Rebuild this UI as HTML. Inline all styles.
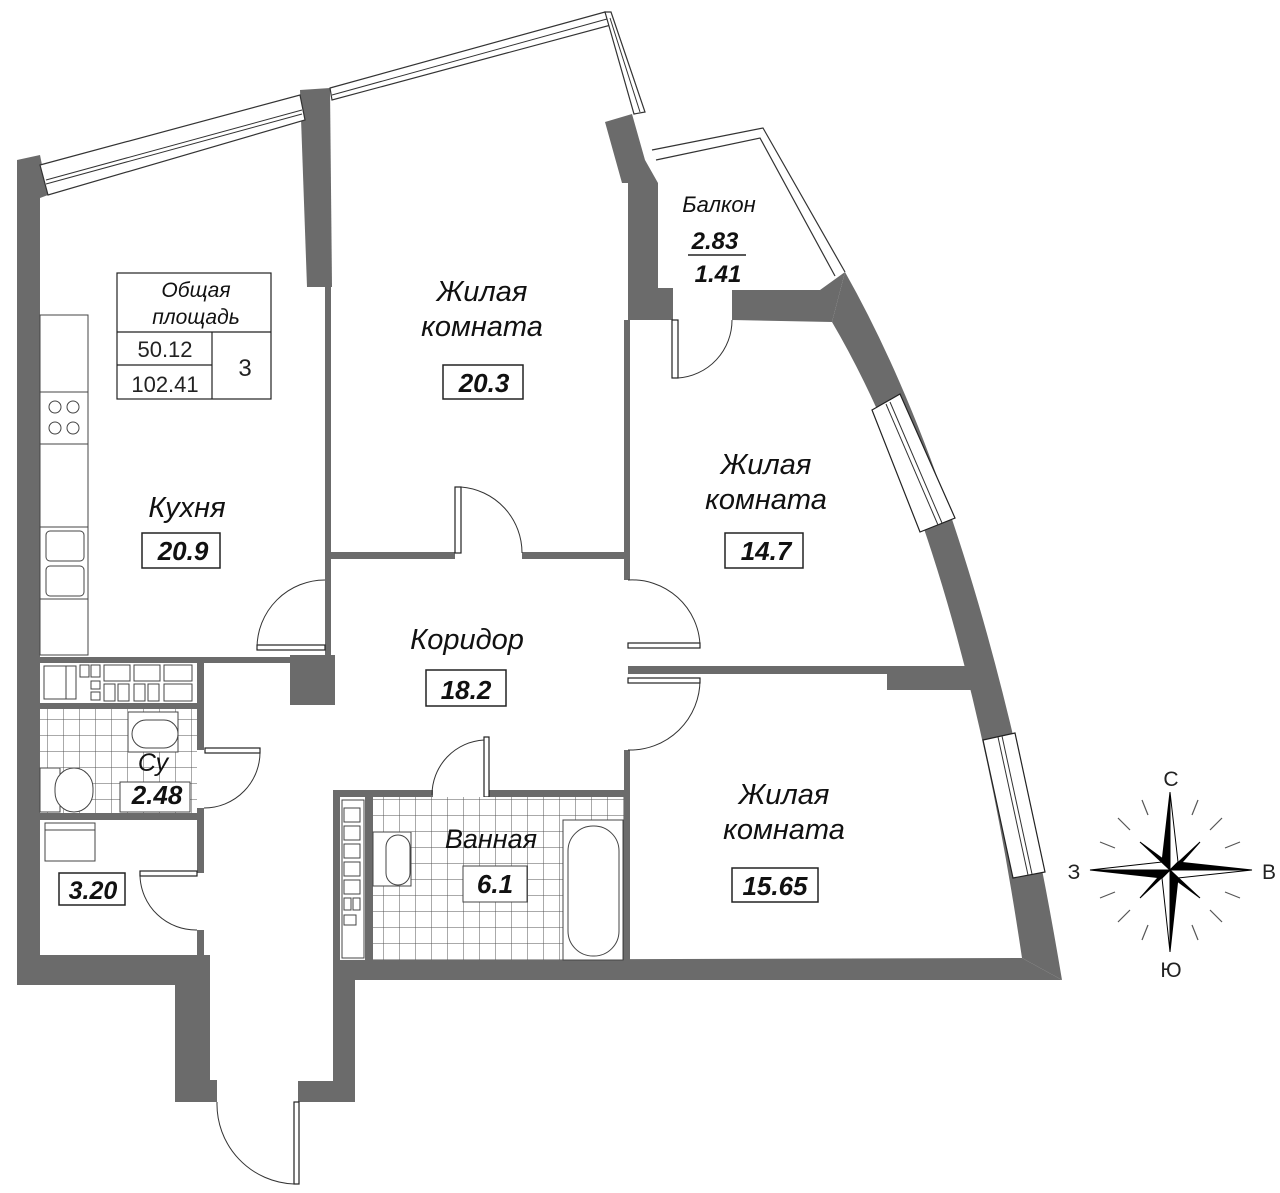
<!DOCTYPE html>
<html><head><meta charset="utf-8"><style>
html,body{margin:0;padding:0;background:#fff;}
svg{display:block;}
.l{font-family:"Liberation Sans",sans-serif;font-style:italic;fill:#111;}
.v{font-family:"Liberation Sans",sans-serif;font-style:italic;font-weight:bold;fill:#111;}
</style></head><body>
<svg width="1280" height="1193" viewBox="0 0 1280 1193" xmlns="http://www.w3.org/2000/svg">
<defs>
<pattern id="tile" width="16" height="16" patternUnits="userSpaceOnUse">
<rect width="16" height="16" fill="#fff"/><path d="M16 0V16M0 16H16" stroke="#555" stroke-width="1"/>
</pattern>
</defs>
<g fill="#6b6b6b" stroke="none">
<polygon points="17,160 40,155 48,195 40,198 40,955 210,955 210,1080 217,1080 217,1102 175,1102 175,985 17,985"/>
<polygon points="333,960 1022,958 1062,980 355,980 355,1102 298,1102 298,1081 333,1081"/>
<polygon points="300,90 330,88 332,287 307,287"/>
<polygon points="605,122 632,114 645,160 658,183 658,288 673,288 673,320 628,320 628,183 622,183"/>
<polygon points="732,290 820,290 845,272 832,322 732,320"/>
<path d="M845,272 Q985,520 1062,980 L1022,958 Q960,540 832,322 Z"/>
<rect x="887" y="666" width="98" height="24"/>
<rect x="628" y="666" width="260" height="8"/>
<rect x="290" y="655" width="45" height="50"/>
<rect x="40" y="657" width="285" height="6"/>
<rect x="40" y="703" width="160" height="6"/>
<rect x="40" y="813" width="160" height="7"/>
<rect x="197" y="657" width="7" height="93"/>
<rect x="197" y="808" width="7" height="65"/>
<rect x="197" y="930" width="7" height="30"/>
<rect x="325" y="287" width="6" height="370"/>
<rect x="624" y="320" width="6" height="260"/>
<rect x="330" y="552" width="125" height="7"/>
<rect x="522" y="552" width="105" height="7"/>
<rect x="624" y="750" width="6" height="45"/>
<rect x="333" y="790" width="100" height="7"/>
<rect x="489" y="790" width="140" height="7"/>
<rect x="333" y="790" width="7" height="172"/>
<rect x="365" y="797" width="8" height="165"/>
<rect x="624" y="790" width="6" height="172"/>
</g>
<g fill="#fff" stroke="#333" stroke-width="1.2">
<polygon points="40,165 300,95 305,120 48,195"/>
<polygon points="330,88 605,12 611,25 332,100"/>
<polygon points="605,12 611,12 645,112 634,114"/>
</g>
<g stroke="#333" stroke-width="1" fill="none">
<line x1="46" y1="180" x2="302" y2="110"/><line x1="46" y1="184" x2="302" y2="114"/>
<line x1="332" y1="95" x2="607" y2="19"/>
<line x1="610" y1="18" x2="640" y2="112"/>
</g>
<g stroke="#333" stroke-width="1.2" fill="none">
<polyline points="652,150 763,128 845,272"/>
<polyline points="656,160 760,138 835,276"/>
</g>
<g fill="#fff" stroke="#222" stroke-width="1.2">
<polygon points="900,394 955,518 920,532 872,410"/>
<polygon points="1015,733 1045,872 1013,878 983,740"/>
</g>
<g stroke="#333" stroke-width="1" fill="none">
<line x1="886" y1="404" x2="938" y2="525"/><line x1="890" y1="402" x2="942" y2="523"/>
<line x1="998" y1="737" x2="1028" y2="875"/><line x1="1002" y1="736" x2="1032" y2="874"/>
</g>
<g stroke="#222" stroke-width="1.2" fill="#fff">
<rect x="672" y="320" width="6" height="58"/>
<rect x="455" y="487" width="6" height="66"/>
<rect x="257" y="645" width="68" height="5"/>
<rect x="628" y="643" width="72" height="5"/>
<rect x="628" y="678" width="72" height="5"/>
<rect x="484" y="737" width="5" height="60"/>
<rect x="205" y="748" width="55" height="5"/>
<rect x="140" y="871" width="57" height="5"/>
<rect x="294" y="1102" width="5" height="82"/>
</g>
<g stroke="#333" stroke-width="1" fill="none">
<path d="M678,378 A58,58 0 0 0 732,320"/>
<path d="M461,487 A66,66 0 0 1 522,553"/>
<path d="M257,648 A68,68 0 0 1 325,580"/>
<path d="M628,580 A68,68 0 0 1 700,645"/>
<path d="M700,680 A70,70 0 0 1 628,750"/>
<path d="M432,795 A55,55 0 0 1 484,740"/>
<path d="M260,750 A56,56 0 0 1 204,808"/>
<path d="M140,876 A56,56 0 0 0 197,930"/>
<path d="M217,1102 A80,80 0 0 0 294,1184"/>
</g>
<g stroke="#444" stroke-width="1" fill="#fff">
<rect x="40" y="315" width="48" height="340"/>
<rect x="40" y="392" width="48" height="52"/>
<circle cx="55" cy="407" r="6"/><circle cx="73" cy="407" r="6"/>
<circle cx="55" cy="428" r="6"/><circle cx="73" cy="428" r="6"/>
<rect x="40" y="527" width="48" height="72"/>
<rect x="46" y="531" width="38" height="30" rx="4"/><rect x="46" y="566" width="38" height="30" rx="4"/>
</g>
<g stroke="#444" stroke-width="1" fill="none">
<rect x="44" y="666" width="32" height="33"/>
<rect x="66" y="666" width="10" height="33"/>
<rect x="80" y="665" width="9" height="12"/><rect x="91" y="665" width="9" height="12"/>
<rect x="91" y="681" width="9" height="8"/><rect x="91" y="692" width="9" height="8"/>
<rect x="104" y="665" width="26" height="16"/><rect x="134" y="665" width="26" height="16"/><rect x="164" y="665" width="28" height="16"/>
<rect x="104" y="684" width="11" height="17"/><rect x="118" y="684" width="11" height="17"/><rect x="134" y="684" width="11" height="17"/><rect x="148" y="684" width="11" height="17"/><rect x="164" y="684" width="28" height="17"/>
</g>
<rect x="40" y="709" width="157" height="104" fill="url(#tile)"/>
<g stroke="#444" stroke-width="1" fill="#fff">
<rect x="128" y="712" width="50" height="40"/>
<rect x="132" y="720" width="46" height="28" rx="14"/>
<rect x="40" y="768" width="20" height="44"/>
<rect x="55" y="768" width="38" height="44" rx="20"/>
<rect x="120" y="782" width="70" height="30"/>
</g>
<rect x="45" y="823" width="50" height="38" fill="#fff" stroke="#444"/>
<line x1="45" y1="830" x2="95" y2="830" stroke="#444"/>
<rect x="373" y="797" width="251" height="163" fill="url(#tile)"/>
<g stroke="#444" stroke-width="1" fill="#fff">
<rect x="342" y="800" width="22" height="158"/>
<rect x="344" y="808" width="16" height="14"/><rect x="344" y="826" width="16" height="14"/><rect x="344" y="844" width="16" height="14"/><rect x="344" y="862" width="16" height="14"/><rect x="344" y="880" width="16" height="14"/>
<rect x="344" y="898" width="7" height="12"/><rect x="353" y="898" width="7" height="12"/>
<rect x="344" y="915" width="12" height="10"/>
<rect x="373" y="832" width="38" height="54"/>
<rect x="386" y="835" width="24" height="50" rx="12"/>
<rect x="563" y="820" width="60" height="140"/>
<rect x="568" y="826" width="51" height="130" rx="25"/>
<rect x="437" y="817" width="110" height="33" fill="url(#tile)" stroke="none"/>
<rect x="463" y="866" width="64" height="36"/>
</g>
<g stroke="#222" stroke-width="1.2" fill="#fff">
<rect x="117" y="273" width="154" height="126"/>
<line x1="117" y1="332" x2="271" y2="332"/>
<line x1="212" y1="332" x2="212" y2="399"/>
<line x1="117" y1="365" x2="212" y2="365"/>
</g>
<text class="l" x="196" y="297" font-size="21" text-anchor="middle">Общая</text>
<text class="l" x="196" y="324" font-size="21" text-anchor="middle">площадь</text>
<text x="165" y="357" font-size="22" font-family="Liberation Sans,sans-serif" fill="#222" text-anchor="middle">50.12</text>
<text x="165" y="392" font-size="22" font-family="Liberation Sans,sans-serif" fill="#222" text-anchor="middle">102.41</text>
<text x="245" y="376" font-size="24" font-family="Liberation Sans,sans-serif" fill="#222" text-anchor="middle">3</text>
<g stroke="#222" stroke-width="1.5" fill="#fff">
<rect x="142" y="533" width="78" height="35"/>
<rect x="443" y="365" width="80" height="34"/>
<rect x="725" y="533" width="78" height="35"/>
<rect x="426" y="670" width="80" height="36"/>
<rect x="732" y="868" width="86" height="34"/>
<rect x="59" y="873" width="66" height="32"/>
</g>
<text class="v" x="183" y="560" font-size="26" text-anchor="middle">20.9</text>
<text class="v" x="484" y="392" font-size="26" text-anchor="middle">20.3</text>
<text class="v" x="766" y="560" font-size="26" text-anchor="middle">14.7</text>
<text class="v" x="466" y="699" font-size="26" text-anchor="middle">18.2</text>
<text class="v" x="775" y="895" font-size="26" text-anchor="middle">15.65</text>
<text class="v" x="93" y="899" font-size="25" text-anchor="middle">3.20</text>
<text class="v" x="157" y="804" font-size="26" text-anchor="middle">2.48</text>
<text class="v" x="495" y="893" font-size="26" text-anchor="middle">6.1</text>
<text class="v" x="715" y="249" font-size="24" text-anchor="middle">2.83</text>
<line x1="688" y1="255" x2="746" y2="255" stroke="#222" stroke-width="1.5"/>
<text class="v" x="718" y="282" font-size="24" text-anchor="middle">1.41</text>
<text class="l" x="719" y="212" font-size="22" text-anchor="middle">Балкон</text>
<text class="l" x="482" y="301" font-size="29" text-anchor="middle">Жилая</text>
<text class="l" x="482" y="336" font-size="29" text-anchor="middle">комната</text>
<text class="l" x="766" y="474" font-size="29" text-anchor="middle">Жилая</text>
<text class="l" x="766" y="509" font-size="29" text-anchor="middle">комната</text>
<text class="l" x="784" y="804" font-size="29" text-anchor="middle">Жилая</text>
<text class="l" x="784" y="839" font-size="29" text-anchor="middle">комната</text>
<text class="l" x="187" y="517" font-size="29" text-anchor="middle">Кухня</text>
<text class="l" x="467" y="649" font-size="29" text-anchor="middle">Коридор</text>
<text class="l" x="491" y="848" font-size="27" text-anchor="middle">Ванная</text>
<text class="l" x="153" y="771" font-size="25" text-anchor="middle">Су</text>
<g transform="translate(1170,870)">
<g stroke="#555" stroke-width="1.2">
<line x1="-28" y1="-70" x2="-22" y2="-55"/><line x1="28" y1="-70" x2="22" y2="-55"/>
<line x1="-28" y1="70" x2="-22" y2="55"/><line x1="28" y1="70" x2="22" y2="55"/>
<line x1="-70" y1="-28" x2="-55" y2="-22"/><line x1="70" y1="-28" x2="55" y2="-22"/>
<line x1="-70" y1="28" x2="-55" y2="22"/><line x1="70" y1="28" x2="55" y2="22"/>
<line x1="-52" y1="-52" x2="-40" y2="-40"/><line x1="52" y1="-52" x2="40" y2="-40"/>
<line x1="-52" y1="52" x2="-40" y2="40"/><line x1="52" y1="52" x2="40" y2="40"/>
</g>
<g stroke="#000" stroke-width="1" fill="#000">
<polygon points="0,-78 -8,-8 0,0"/><polygon points="0,-78 8,-8 0,0" fill="#fff"/>
<polygon points="0,82 8,8 0,0"/><polygon points="0,82 -8,8 0,0" fill="#fff"/>
<polygon points="-80,0 -8,8 0,0"/><polygon points="-80,0 -8,-8 0,0" fill="#fff"/>
<polygon points="82,0 8,-8 0,0"/><polygon points="82,0 8,8 0,0" fill="#fff"/>
<polygon points="-30,-28 -3,-8 0,0"/><polygon points="30,-28 8,-3 0,0"/>
<polygon points="30,28 3,8 0,0"/><polygon points="-30,28 -8,3 0,0"/>
</g>
</g>
<g font-family="Liberation Sans,sans-serif" font-size="21" fill="#222" text-anchor="middle">
<text x="1171" y="786">С</text>
<text x="1074" y="879">З</text>
<text x="1269" y="879">В</text>
<text x="1171" y="977">Ю</text>
</g>
</svg>
</body></html>
